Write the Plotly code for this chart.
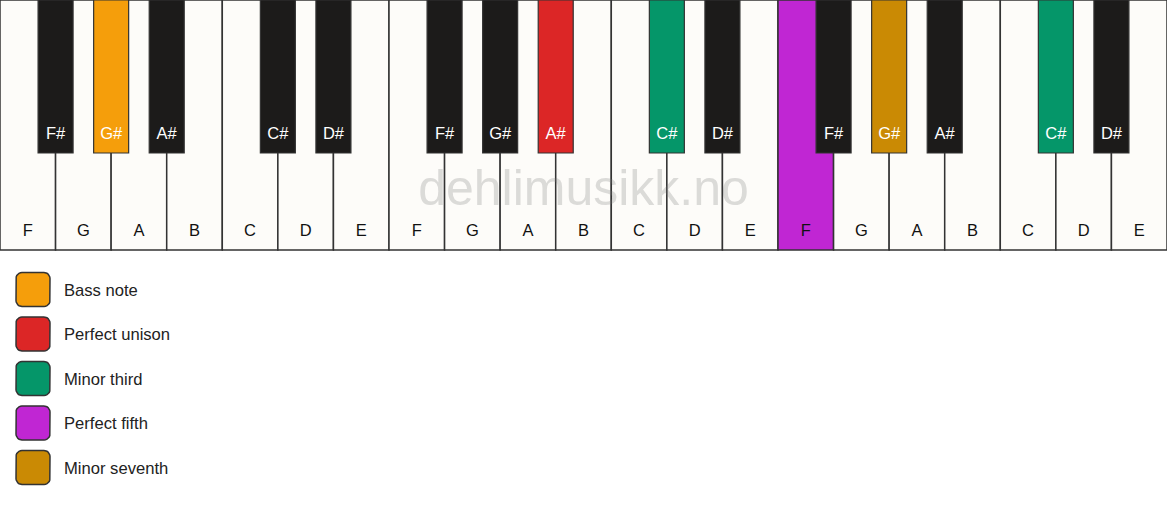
import math
import plotly.graph_objects as go

# ---------------- data ----------------
white_notes = ["F", "G", "A", "B", "C", "D", "E",
               "F", "G", "A", "B", "C", "D", "E",
               "F", "G", "A", "B", "C", "D", "E"]
black_notes = ["F#", "G#", "A#", "C#", "D#",
               "F#", "G#", "A#", "C#", "D#",
               "F#", "G#", "A#", "C#", "D#"]
# white-key index after which each black key sits
black_after = [0, 1, 2, 4, 5, 7, 8, 9, 11, 12, 14, 15, 16, 18, 19]

interval_names = ["Bass note", "Perfect unison", "Minor third",
                  "Perfect fifth", "Minor seventh"]
interval_colors = ["#F59E0B", "#DC2626", "#059669", "#C026D3", "#CA8A04"]

# highlighted keys: key index -> interval index
white_marks = {14: 3}
black_marks = {1: 0, 7: 1, 8: 2, 11: 4, 13: 2}

watermark = "dehlimusikk.no"

# ---------------- styling ----------------
W, H = 1167, 506
TOP_AREA = 260
KEY_H = 250
BLACK_H = 153
BLACK_W = 0.63
WHITE_FILL = "#FDFCF9"
BLACK_FILL = "#1C1B1A"
EDGE = "#333333"
FONT = "Liberation Sans, Arial, sans-serif"

n_white = len(white_notes)
white_colors = [interval_colors[white_marks[i]] if i in white_marks else WHITE_FILL
                for i in range(n_white)]
black_colors = [interval_colors[black_marks[j]] if j in black_marks else BLACK_FILL
                for j in range(len(black_notes))]
white_x = [i + 0.5 for i in range(n_white)]
black_x = [a + 1 for a in black_after]

fig = go.Figure()

fig.add_trace(go.Bar(
    x=white_x, y=[KEY_H] * n_white, base=0, width=1,
    marker=dict(color=white_colors, line=dict(color=EDGE, width=1.5)),
    xaxis="x", yaxis="y", hoverinfo="skip", showlegend=False))

fig.add_trace(go.Bar(
    x=black_x, y=[BLACK_H] * len(black_x), base=0, width=BLACK_W,
    marker=dict(color=black_colors, line=dict(color=EDGE, width=1.2)),
    xaxis="x", yaxis="y", hoverinfo="skip", showlegend=False))

# watermark
fig.add_trace(go.Scatter(
    x=[n_white / 2], y=[192], mode="text", text=[watermark],
    textfont=dict(family=FONT, size=50, color="rgba(120,120,120,0.25)"),
    xaxis="x", yaxis="y", hoverinfo="skip", showlegend=False))

# key labels
fig.add_trace(go.Scatter(
    x=white_x, y=[232] * n_white, mode="text", text=white_notes,
    textfont=dict(family=FONT, size=16.5, color="#111111"),
    xaxis="x", yaxis="y", hoverinfo="skip", showlegend=False))
fig.add_trace(go.Scatter(
    x=black_x, y=[135] * len(black_x), mode="text", text=black_notes,
    textfont=dict(family=FONT, size=16.5, color="#FFFFFF"),
    xaxis="x", yaxis="y", hoverinfo="skip", showlegend=False))

# legend (rounded swatches + labels)
SW_CX, SW_HALF, SW_R = 33, 17, 6
legend_y0, legend_step = 289.5, 44.5
legend_y = [legend_y0 + k * legend_step for k in range(len(interval_names))]


def rounded_rect(cx, cy, h, r, n=6):
    xs, ys = [], []
    corners = [(cx + h - r, cy - h + r, -90, 0),
               (cx + h - r, cy + h - r, 0, 90),
               (cx - h + r, cy + h - r, 90, 180),
               (cx - h + r, cy - h + r, 180, 270)]
    for ccx, ccy, a0, a1 in corners:
        for s in range(n + 1):
            a = math.radians(a0 + (a1 - a0) * s / n)
            xs.append(ccx + r * math.cos(a))
            ys.append(ccy + r * math.sin(a))
    xs.append(xs[0]); ys.append(ys[0])
    return xs, ys


for name, col, cy in zip(interval_names, interval_colors, legend_y):
    xs, ys = rounded_rect(SW_CX, cy, SW_HALF, SW_R)
    fig.add_trace(go.Scatter(
        x=xs, y=ys, mode="lines", fill="toself", fillcolor=col,
        line=dict(color=EDGE, width=1.5), xaxis="x2", yaxis="y2",
        hoverinfo="skip", showlegend=False))

fig.add_trace(go.Scatter(
    x=[64] * len(interval_names), y=[v + 2 for v in legend_y], mode="text",
    text=interval_names, textposition="middle right",
    textfont=dict(family=FONT, size=16.6, color="#222222"),
    xaxis="x2", yaxis="y2", hoverinfo="skip", showlegend=False))

hidden = dict(visible=False, showgrid=False, zeroline=False, fixedrange=True)
fig.update_layout(
    width=W, height=H,
    margin=dict(l=0, r=0, t=0, b=0),
    paper_bgcolor="white", plot_bgcolor="white",
    barmode="overlay", bargap=0,
    showlegend=False, hovermode=False,
    xaxis=dict(domain=[0, 1], range=[0, n_white], **hidden),
    yaxis=dict(domain=[1 - TOP_AREA / H, 1], range=[TOP_AREA, 0], **hidden),
    xaxis2=dict(domain=[0, 1], range=[0, W], anchor="y2", **hidden),
    yaxis2=dict(domain=[0, 1 - TOP_AREA / H], range=[H, TOP_AREA], anchor="x2", **hidden),
)

fig.write_html(
    "out.html",
    config={"displayModeBar": False, "staticPlot": True},
    post_script="document.body.style.margin='0';document.body.style.padding='0';",
)
